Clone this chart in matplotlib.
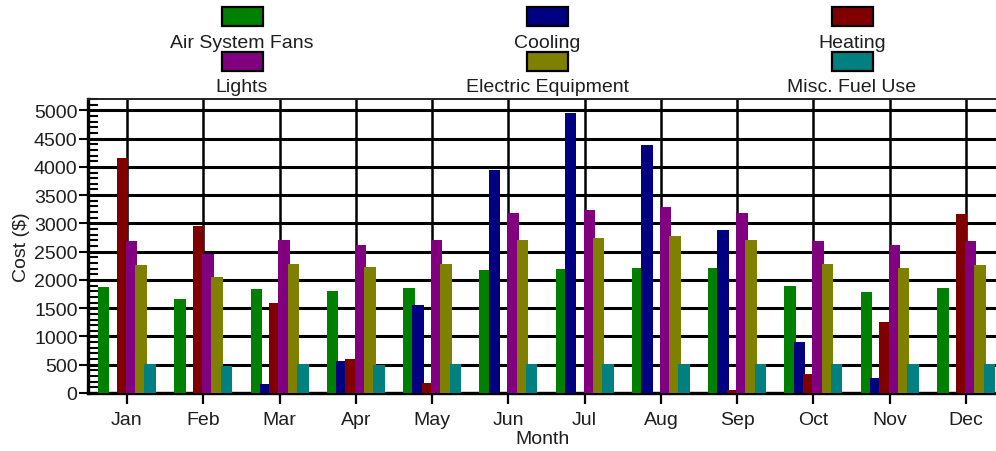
import numpy as np
import matplotlib
matplotlib.use("Agg")
import matplotlib.pyplot as plt
from matplotlib.patches import Rectangle
from matplotlib.ticker import MultipleLocator

plt.rcParams['font.family'] = ['Liberation Sans', 'DejaVu Sans']

months = ['Jan', 'Feb', 'Mar', 'Apr', 'May', 'Jun',
          'Jul', 'Aug', 'Sep', 'Oct', 'Nov', 'Dec']

air_system_fans = [1880, 1660, 1840, 1810, 1850, 2170, 2190, 2210, 2210, 1890, 1780, 1850]
cooling = [0, 0, 160, 570, 1560, 3950, 4950, 4380, 2890, 900, 260, 0]
heating = [4150, 2960, 1590, 610, 170, 0, 0, 0, 50, 330, 1260, 3170]
lights = [2680, 2450, 2700, 2620, 2710, 3190, 3230, 3290, 3190, 2690, 2620, 2690]
electric_equipment = [2270, 2060, 2290, 2220, 2280, 2700, 2740, 2780, 2700, 2280, 2210, 2260]
misc_fuel_use = [510, 480, 510, 500, 510, 510, 510, 510, 510, 510, 510, 510]

series_names = ['Air System Fans', 'Cooling', 'Heating',
                'Lights', 'Electric Equipment', 'Misc. Fuel Use']
series_values = [air_system_fans, cooling, heating,
                 lights, electric_equipment, misc_fuel_use]
series_colors = ['#008000', '#000080', '#800000',
                 '#800080', '#808000', '#008080']

W, H = 996, 452
TEXT = '#1e1e1e'

fig = plt.figure(figsize=(W / 100, H / 100), dpi=100)
ax = fig.add_axes([88 / W, 1 - 394 / H, 1 - 88 / W, (394 - 100) / H])

x = np.arange(len(months))
step = 0.122
width = 0.151
for i, (vals, col) in enumerate(zip(series_values, series_colors)):
    ax.bar(x + (i - 2.5) * step, vals, width=width, color=col,
           linewidth=0, zorder=3)

ax.set_xlim(-0.511, 11.393)
ax.set_ylim(0, 5200)

ax.set_xticks(x)
ax.set_xticklabels(months)
ax.yaxis.set_major_locator(MultipleLocator(500))
ax.yaxis.set_minor_locator(MultipleLocator(100))

ax.set_axisbelow(True)
ax.grid(axis='y', which='major', color='black', linewidth=2.2, zorder=1)
ax.grid(axis='x', which='major', color='black', linewidth=1.8, zorder=1)

ax.tick_params(axis='y', which='major', direction='out', length=6.5,
               width=1.5, color='black', labelsize=14, labelcolor=TEXT, pad=1)
ax.tick_params(axis='y', which='minor', direction='in', length=7,
               width=1.5, color='black')
ax.tick_params(axis='x', which='major', direction='out', length=8,
               width=1.6, color='black', labelsize=14, labelcolor=TEXT, pad=5)

for side in ('left', 'bottom'):
    ax.spines[side].set_linewidth(2.4)
    ax.spines[side].set_color('black')
ax.spines['top'].set_linewidth(1.4)
ax.spines['top'].set_color('#222222')
ax.spines['right'].set_visible(False)

ax.set_xlabel('Month', fontsize=14, color=TEXT, labelpad=1.5)
ax.set_ylabel('Cost ($)', fontsize=14, color=TEXT, labelpad=3)

# legend: swatch above each label, three columns by two rows
col_centers = [242, 547, 852]
swatch_top = [7.5, 52.5]
label_base = [47.5, 91.5]
sw_w, sw_h = 41, 19
for k, (name, col) in enumerate(zip(series_names, series_colors)):
    row, c = divmod(k, 3)
    cx = col_centers[c]
    fig.add_artist(Rectangle(((cx - sw_w / 2) / W, 1 - (swatch_top[row] + sw_h) / H),
                             sw_w / W, sw_h / H, facecolor=col,
                             edgecolor='black', linewidth=1.6,
                             transform=fig.transFigure))
    fig.text(cx / W, 1 - label_base[row] / H, name, ha='center',
             va='baseline', fontsize=14, color=TEXT)

fig.savefig('out.png', dpi=100)
